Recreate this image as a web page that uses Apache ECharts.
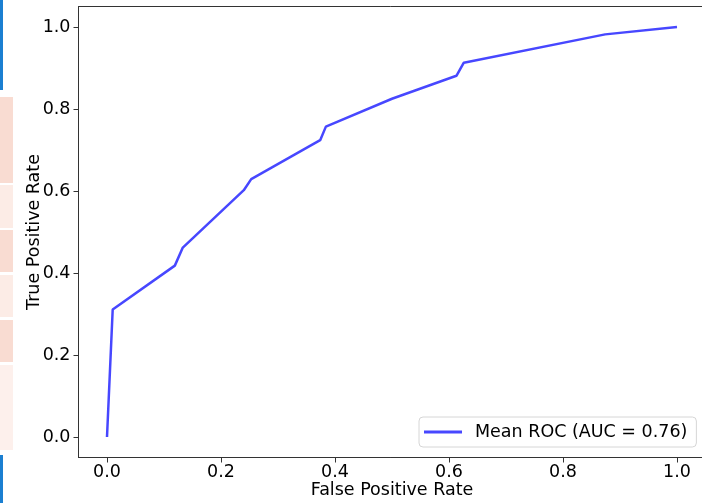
<!DOCTYPE html>
<html>
<head>
<meta charset="utf-8">
<script src="https://cdn.jsdelivr.net/npm/echarts@6/dist/echarts.min.js"></script>
<style>
  html, body { margin: 0; padding: 0; background: #fff; }
  #main { width: 702px; height: 503px; }
</style>
</head>
<body>
<div id="main"></div>
<script>
// mean ROC curve
var fpr = [0, 0.010, 0.119, 0.133, 0.240, 0.253, 0.374, 0.384, 0.500, 0.613, 0.626, 0.874, 1.0];
var tpr = [0, 0.311, 0.418, 0.462, 0.602, 0.629, 0.724, 0.757, 0.825, 0.881, 0.913, 0.982, 1.0];
var ticks = [0, 0.2, 0.4, 0.6, 0.8, 1.0];
var seriesName = 'Mean ROC (AUC = 0.76)';

var chart = echarts.init(document.getElementById('main'), null, { renderer: 'canvas' });

var points = fpr.map(function (x, i) { return [x, tpr[i]]; });
var font = 'DejaVu Sans';
var fs = 17.5;

function axis(name, gap, isY) {
  return {
    type: 'value',
    min: -0.05,
    max: 1.05,
    name: name,
    nameLocation: 'middle',
    nameGap: gap,
    nameMoveOverlap: false,
    nameTextStyle: { fontFamily: font, fontSize: fs, color: '#000' },
    axisLine: { show: true, onZero: false, lineStyle: { color: '#333', width: 1 } },
    axisTick: { show: true, inside: false, length: 5, customValues: ticks, lineStyle: { color: '#333' } },
    axisLabel: {
      customValues: ticks,
      margin: isY ? 8 : 6,
      fontFamily: font, fontSize: fs, color: '#000',
      formatter: function (v) { return v.toFixed(1); }
    },
    splitLine: { show: false }
  };
}

// strips along the left edge of the screenshot
var strips = [
  [0, 0, 3, 90, '#1b7fd1'],
  [0, 97, 13, 86, '#f9dcd2'],
  [0, 185, 13, 43, '#fcece6'],
  [0, 230, 13, 42, '#f9dcd2'],
  [0, 275, 13, 42, '#fcece6'],
  [0, 320, 13, 42, '#f9dcd2'],
  [0, 365, 13, 85, '#fdf0ec'],
  [0, 455, 3, 48, '#1b7fd1']
];

var option = {
  backgroundColor: '#fff',
  animation: false,
  grid: {
    left: 78.5, top: 6.5, width: 627, height: 451,
    outerBoundsMode: 'none',
    containLabel: false,
    show: true, borderColor: '#333', borderWidth: 1, backgroundColor: 'transparent'
  },
  xAxis: axis('False Positive Rate', 24, false),
  yAxis: axis('True Positive Rate', 35, true),
  legend: {
    data: [seriesName],
    left: 419, top: 417,
    padding: [6, 9, 6, 5],
    backgroundColor: '#fff',
    borderColor: '#d6d6d6',
    borderWidth: 1,
    borderRadius: 4,
    icon: 'rect',
    itemWidth: 38,
    itemHeight: 3,
    textStyle: { fontFamily: font, fontSize: fs, color: '#000', padding: [0, 0, 0, 8] }
  },
  graphic: strips.map(function (s) {
    return { type: 'rect', shape: { x: s[0], y: s[1], width: s[2], height: s[3] }, style: { fill: s[4] }, silent: true };
  }),
  series: [{
    name: seriesName,
    type: 'line',
    data: points,
    symbol: 'none',
    color: 'rgba(0,0,255,0.72)',
    lineStyle: { color: 'rgba(0,0,255,0.72)', width: 2.5 }
  }]
};

chart.setOption(option);
</script>
</body>
</html>
